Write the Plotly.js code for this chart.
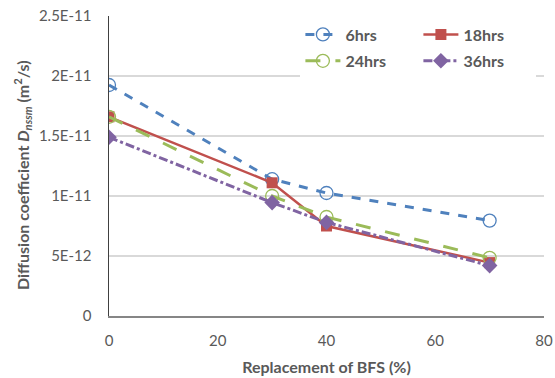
<!DOCTYPE html>
<html>
<head>
<meta charset="utf-8">
<script src="https://cdn.plot.ly/plotly-3.0.1.min.js"></script>
<style>html,body{margin:0;padding:0;background:#fff;}#chart{width:555px;height:378px;}</style>
</head>
<body>
<div id="chart"></div>
<script>
// Data
const replacement = [0, 30, 40, 70];
const d6hrs  = [1.925e-11, 1.14e-11, 1.025e-11, 7.95e-12];
const d18hrs = [1.66e-11, 1.11e-11, 7.5e-12, 4.45e-12];
const d24hrs = [1.66e-11, 1.0e-11, 8.25e-12, 4.85e-12];
const d36hrs = [1.49e-11, 9.45e-12, 7.8e-12, 4.2e-12];
const seriesNames = ["6hrs", "18hrs", "24hrs", "36hrs"];
const yTickVals = [0, 5e-12, 1e-11, 1.5e-11, 2e-11, 2.5e-11];
const yTickText = ["0", "5E-12", "1E-11", "1.5E-11", "2E-11", "2.5E-11"];
const xTickVals = [0, 20, 40, 60, 80];
const xTitle = "Replacement of BFS (%)";
const yTitle = "Diffusion coefficient <i>D</i><sub><i>nssm</i></sub> (m<sup>2</sup>/s)";

const FONT = "Lato, 'Open Sans', sans-serif";
const blue = "#4F81BD", red = "#C0504D", green = "#9BBB59", purple = "#8064A2";

const traces = [
  {x: replacement, y: d6hrs, name: seriesNames[0], mode: "lines+markers", legend: "legend",
   line: {color: blue, width: 3, dash: "dash"},
   marker: {symbol: "circle-open", size: 13, color: blue, line: {width: 1.3, color: blue}}},
  {x: replacement, y: d18hrs, name: seriesNames[1], mode: "lines+markers", legend: "legend",
   line: {color: red, width: 2.5},
   marker: {symbol: "square", size: 11, color: red}},
  {x: replacement, y: d24hrs, name: seriesNames[2], mode: "lines+markers", legend: "legend2",
   line: {color: green, width: 3, dash: "longdash"},
   marker: {symbol: "circle-open", size: 13, color: green, line: {width: 1.3, color: green}}},
  {x: replacement, y: d36hrs, name: seriesNames[3], mode: "lines+markers", legend: "legend2",
   line: {color: purple, width: 3, dash: "dashdot"},
   marker: {symbol: "diamond", size: 12, color: purple}}
];

const legendCommon = {
  orientation: "h", xanchor: "left", yanchor: "top",
  bgcolor: "#fff", borderwidth: 0,
  font: {family: FONT, size: 16, color: "#595959", weight: "bold"},
  entrywidth: 68, entrywidthmode: "pixels", itemwidth: 35,
  tracegroupgap: 0
};

const layout = {
  width: 555, height: 378,
  margin: {l: 109, r: 11, t: 16, b: 62},
  paper_bgcolor: "#fff", plot_bgcolor: "#fff",
  font: {family: FONT, size: 15, color: "#595959"},
  showlegend: true,
  legend: Object.assign({}, legendCommon, {x: 0.44, y: 0.995}),
  legend2: Object.assign({}, legendCommon, {x: 0.44, y: 0.907}),
  xaxis: {
    range: [0, 80], tickvals: xTickVals, ticks: "", showgrid: false, zeroline: false,
    showline: true, linecolor: "#868686", linewidth: 1.5,
    ticklabelstandoff: 10,
    tickfont: {family: FONT, size: 15, color: "#595959"},
    title: {text: "<b>" + xTitle + "</b>", font: {family: FONT, size: 16, color: "#595959"}, standoff: 14}
  },
  yaxis: {
    range: [0, 2.5e-11], tickvals: yTickVals, ticktext: yTickText, ticks: "",
    showgrid: true, gridcolor: "#D9D9D9", gridwidth: 1.3, zeroline: false,
    showline: true, linecolor: "#404040", linewidth: 1.5,
    ticklabelstandoff: 13,
    tickfont: {family: FONT, size: 15, color: "#595959"}
  },
  annotations: [{
    text: "<b>" + yTitle + "</b>", textangle: -90, showarrow: false,
    xref: "paper", yref: "paper", x: -0.2, y: 0.47, xanchor: "center", yanchor: "middle",
    font: {family: FONT, size: 16, color: "#595959"}
  }]
};

Plotly.newPlot("chart", traces, layout, {displayModeBar: false, staticPlot: true});
</script>
</body>
</html>
